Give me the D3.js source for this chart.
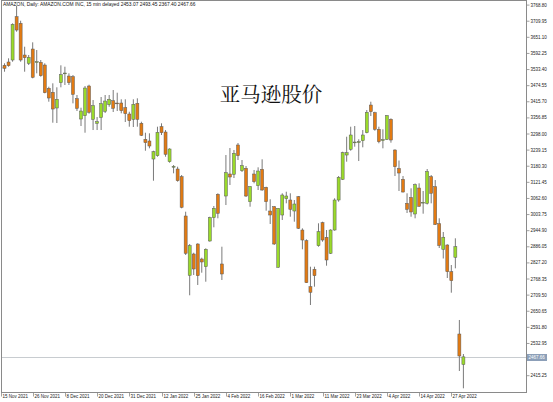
<!DOCTYPE html>
<html><head><meta charset="utf-8">
<script src="https://cdn.jsdelivr.net/npm/d3@7"></script>
<style>html,body{margin:0;padding:0;background:#fff;overflow:hidden}</style>
</head><body><svg id="c" width="553" height="402"></svg>
<script>
const dates = [
"2021-11-15","2021-11-16","2021-11-17","2021-11-18","2021-11-19","2021-11-22","2021-11-23","2021-11-24","2021-11-26","2021-11-29","2021-11-30",
"2021-12-01","2021-12-02","2021-12-03","2021-12-06","2021-12-07","2021-12-08","2021-12-09","2021-12-10","2021-12-13","2021-12-14","2021-12-15","2021-12-16","2021-12-17","2021-12-20","2021-12-21","2021-12-22","2021-12-23","2021-12-27","2021-12-28","2021-12-29","2021-12-30","2021-12-31",
"2022-01-03","2022-01-04","2022-01-05","2022-01-06","2022-01-07","2022-01-10","2022-01-11","2022-01-12","2022-01-13","2022-01-14","2022-01-18","2022-01-19","2022-01-20","2022-01-21","2022-01-24","2022-01-25","2022-01-26","2022-01-27","2022-01-28","2022-01-31",
"2022-02-01","2022-02-02","2022-02-03","2022-02-04","2022-02-07","2022-02-08","2022-02-09","2022-02-10","2022-02-11","2022-02-14","2022-02-15","2022-02-16","2022-02-17","2022-02-18","2022-02-22","2022-02-23","2022-02-24","2022-02-25","2022-02-28",
"2022-03-01","2022-03-02","2022-03-03","2022-03-04","2022-03-07","2022-03-08","2022-03-09","2022-03-10","2022-03-11","2022-03-14","2022-03-15","2022-03-16","2022-03-17","2022-03-18","2022-03-21","2022-03-22","2022-03-23","2022-03-24","2022-03-25","2022-03-28","2022-03-29","2022-03-30","2022-03-31",
"2022-04-01","2022-04-04","2022-04-05","2022-04-06","2022-04-07","2022-04-08","2022-04-11","2022-04-12","2022-04-13","2022-04-14","2022-04-18","2022-04-19","2022-04-20","2022-04-21","2022-04-22","2022-04-25","2022-04-26","2022-04-27","2022-04-28","2022-04-29",
"2022-05-02"];

const open = [3526.2,3532.4,3544.5,3551.8,3709.9,3685.8,3570.0,3539.7,3591.9,3543.4,3543.4,
3533.5,3448.4,3433.8,3376.5,3468.9,3501.7,3493.3,3490.8,3410.5,3336.3,3348.4,3456.8,3335.2,3320.6,3341.8,3364.4,3388.5,3403.1,3394.7,3394.7,3377.6,3354.6,
3335.2,3393.6,3320.6,3262.2,3256.0,3190.2,3202.3,3308.2,3288.8,3180.4,3161.0,3153.7,3125.6,2982.1,2765.5,2843.3,2879.8,2825.0,2796.9,2890.8,
2975.9,3061.3,2806.8,3055.1,3135.5,3134.4,3241.4,3147.5,3156.3,3034.3,3135.5,3092.7,3152.6,3086.9,3000.3,3016.0,2794.7,2985.7,3045.2,
3040.5,3000.3,3052.6,2930.9,2891.9,2723.9,2787.4,2873.6,2957.6,2904.3,2845.8,2930.9,3040.5,3116.1,3204.8,3225.7,3250.1,3251.2,3257.1,3286.3,3387.4,3359.3,3298.7,
3258.5,3262.2,3335.2,3223.1,3155.5,3116.1,3028.4,3049.6,2989.4,3084.3,3030.6,3028.4,3125.6,3089.1,2953.9,2860.5,2876.2,2778.6,2831.2,2551.1,
2439.7];
const high = [3531.7,3539.7,3558.0,3685.8,3749.0,3695.3,3600.4,3570.0,3616.4,3588.3,3551.8,
3539.7,3454.3,3466.7,3452.1,3532.4,3527.3,3503.2,3497.0,3424.0,3377.6,3456.8,3461.6,3405.7,3343.6,3416.7,3424.0,3424.0,3442.2,3432.4,3408.3,3408.3,3363.0,
3408.3,3411.9,3326.4,3286.3,3284.1,3220.5,3308.2,3320.6,3296.1,3229.3,3168.3,3162.1,3131.8,2997.8,2879.8,2848.0,2882.4,2829.8,2864.1,2979.5,
3018.6,3065.0,2869.9,3204.8,3230.4,3223.1,3248.7,3186.6,3164.7,3091.6,3150.1,3159.9,3189.1,3089.1,3043.1,3018.6,3010.2,3065.0,3070.8,
3065.0,3040.5,3055.1,2937.1,2897.0,2796.9,2796.9,2955.4,2961.3,2930.9,2933.5,3046.7,3128.1,3216.9,3271.7,3308.2,3310.7,3262.2,3296.1,3369.2,3399.5,3363.0,3308.2,
3298.7,3350.9,3338.9,3225.7,3184.7,3128.1,3065.0,3083.2,3100.8,3101.5,3073.4,3153.7,3131.8,3113.5,2973.7,2923.6,2878.7,2803.1,2900.6,2602.3,
2478.0];
const low = [3515.3,3509.1,3527.3,3545.6,3655.1,3545.6,3509.1,3533.5,3484.9,3503.2,3490.8,
3430.2,3399.5,3322.8,3321.7,3452.1,3460.5,3460.5,3393.6,3365.5,3310.7,3286.3,3355.7,3296.1,3296.1,3296.1,3358.2,3381.2,3361.9,3365.5,3357.1,3325.4,3308.2,
3307.1,3308.2,3274.2,3220.5,3229.3,3111.0,3198.6,3277.9,3198.6,3176.7,3138.0,3107.3,3010.2,2839.6,2692.5,2766.6,2730.1,2775.0,2742.1,2888.2,
2940.8,2973.7,2748.3,3022.2,3095.3,3120.8,3186.6,3142.8,3051.5,3016.0,3101.5,3077.0,3074.5,3001.4,2952.9,2876.2,2793.3,2967.5,3028.4,
2979.5,2961.3,2934.6,2860.5,2737.4,2657.0,2723.9,2869.9,2888.2,2800.6,2843.3,2928.4,3034.3,3113.5,3180.4,3220.5,3235.2,3182.9,3233.0,3284.1,3347.3,3293.6,3247.6,
3229.3,3259.6,3249.8,3128.1,3073.4,3067.9,2993.0,2979.5,2973.7,3016.0,2990.5,3024.1,3028.4,2949.2,2865.2,2826.9,2755.6,2702.0,2791.0,2416.0,
2352.8];
const close = [3520.7,3521.5,3531.0,3682.2,3661.3,3551.8,3560.2,3561.6,3488.6,3545.6,3494.4,
3432.4,3413.0,3372.8,3408.3,3498.1,3504.3,3468.9,3426.5,3375.4,3365.5,3449.5,3360.8,3384.9,3326.4,3392.2,3402.0,3408.3,3375.4,3392.6,3366.6,3355.7,3330.1,
3390.0,3335.2,3276.8,3249.8,3237.7,3216.9,3287.7,3286.3,3207.4,3226.8,3163.2,3111.0,3013.8,2845.8,2873.6,2788.5,2764.0,2814.1,2860.5,2975.9,
3010.2,2991.9,2770.3,3140.2,3124.5,3211.1,3202.3,3165.8,3055.1,3089.1,3107.3,3146.4,3077.0,3034.3,2985.7,2879.8,3010.2,3058.8,3055.1,
3006.5,3025.9,2937.1,2894.4,2738.5,2703.4,2764.0,2924.7,2894.4,2821.4,2930.9,3040.5,3123.4,3213.2,3213.2,3277.9,3252.3,3253.4,3277.9,3360.8,3363.0,3298.7,3253.4,
3260.7,3348.4,3259.6,3162.1,3139.1,3069.7,3006.5,2996.7,3096.4,3017.5,3032.1,3144.6,3065.0,2951.0,2874.3,2904.6,2778.6,2745.8,2869.9,2470.8,
2467.66];

const yTicks = [3768.80,3709.95,3651.10,3592.25,3533.40,3474.55,3415.70,3356.85,3298.00,3239.15,3180.30,3121.45,3062.60,3003.75,2944.90,2886.05,2827.20,2768.35,2709.50,2650.65,2591.80,2532.95,2474.10,2415.25];
const xTickDates = ["2021-11-15","2021-11-26","2021-12-08","2021-12-20","2021-12-31","2022-01-12","2022-01-25","2022-02-04","2022-02-16","2022-03-01","2022-03-11","2022-03-23","2022-04-04","2022-04-14","2022-04-27"];
const headerText = "AMAZON, Daily:  AMAZON.COM INC, 15 min delayed  2453.07 2493.45 2367.40 2467.66";
const title = "亚马逊股价";
const lastPrice = 2467.66;

const svg = d3.select("#c");
const L = 1.5, R = 526.5, T = 0.5, B = 392.5;
const x = d3.scalePoint().domain(dates).range([0.5, 463.4]);
const y = d3.scaleLinear().domain([2415.25, 3768.80]).range([371.2, 0.6]);
const labOff = 4.5;
const fontUI = "'Liberation Sans', Arial, sans-serif";

svg.append("defs").append("clipPath").attr("id","pc").append("rect")
  .attr("x", L).attr("y", T).attr("width", R-L).attr("height", B-T);

const data = dates.map((d,i)=>({d, o:open[i], h:high[i], l:low[i], c:close[i]}));
const g = svg.append("g").attr("clip-path","url(#pc)");

// price line
const py = Math.round(y(lastPrice))+0.5;
g.append("line").attr("x1", L).attr("x2", R)
  .attr("y1", py).attr("y2", py)
  .attr("stroke", "#c8ccd0").attr("stroke-width", 1);

const cg = g.selectAll("g.k").data(data).join("g").attr("class","k");
cg.append("line")
  .attr("x1", d=>x(d.d)).attr("x2", d=>x(d.d))
  .attr("y1", d=>y(d.h)).attr("y2", d=>y(d.l))
  .attr("stroke", "#7a7a7a").attr("stroke-width", 1);
cg.append("rect")
  .attr("x", d=>x(d.d)-1.5).attr("width", 3)
  .attr("y", d=>y(Math.max(d.o,d.c)))
  .attr("height", d=>Math.max(0.8, Math.abs(y(d.o)-y(d.c))))
  .attr("fill", d=> d.c>=d.o ? "#9ada2a" : "#e27a12")
  .attr("stroke", "#5a5a5a").attr("stroke-width", 0.5);

// frame
svg.append("rect").attr("x", L).attr("y", T).attr("width", R-L).attr("height", B-T)
  .attr("fill","none").attr("stroke","#8a8a8a").attr("stroke-width",1);

// y axis labels
const ya = svg.append("g");
yTicks.forEach(v=>{
  const yy = y(v)+labOff;
  ya.append("line").attr("x1", R).attr("x2", R+3).attr("y1", yy).attr("y2", yy).attr("stroke","#8a8a8a").attr("stroke-width",0.8);
  ya.append("text").attr("x", R+4).attr("y", yy).attr("dy","0.35em")
    .attr("font-family", fontUI).attr("font-size", 4.5).attr("fill","#222").text(v.toFixed(2));
});

// price box
svg.append("rect").attr("x", R+0.5).attr("y", py-3.5).attr("width", 20).attr("height", 7).attr("fill","#8c9fb8");
svg.append("text").attr("x", R+2).attr("y", py).attr("dy","0.35em")
  .attr("font-family", fontUI).attr("font-size", 4.5).attr("fill","#fff").text(lastPrice.toFixed(2));

// x axis labels
const fmt = d3.timeFormat("%-d %b %Y");
const parse = d3.timeParse("%Y-%m-%d");
const xa = svg.append("g");
xTickDates.forEach(d=>{
  const xx = Math.round(x(d))+0.5;
  xa.append("line").attr("x1", xx).attr("x2", xx).attr("y1", B).attr("y2", B+4).attr("stroke","#8a8a8a").attr("stroke-width",0.8);
  xa.append("text").attr("x", xx+1).attr("y", B+5).attr("dy","0.1em")
    .attr("font-family", fontUI).attr("font-size", 4.5).attr("fill","#222").text(fmt(parse(d)));
});

// header
svg.append("text").attr("x", 3).attr("y", 4).attr("dy","0.35em")
  .attr("font-family", fontUI).attr("font-size", 4.9).attr("fill","#111").text(headerText);

// title
svg.append("text").attr("x", 271).attr("y", 95).attr("dy","0.35em").attr("text-anchor","middle")
  .attr("font-family", "'Noto Serif CJK SC','Noto Sans CJK SC',sans-serif").attr("font-size", 20.5).attr("fill","#111").text(title);
</script></body></html>
